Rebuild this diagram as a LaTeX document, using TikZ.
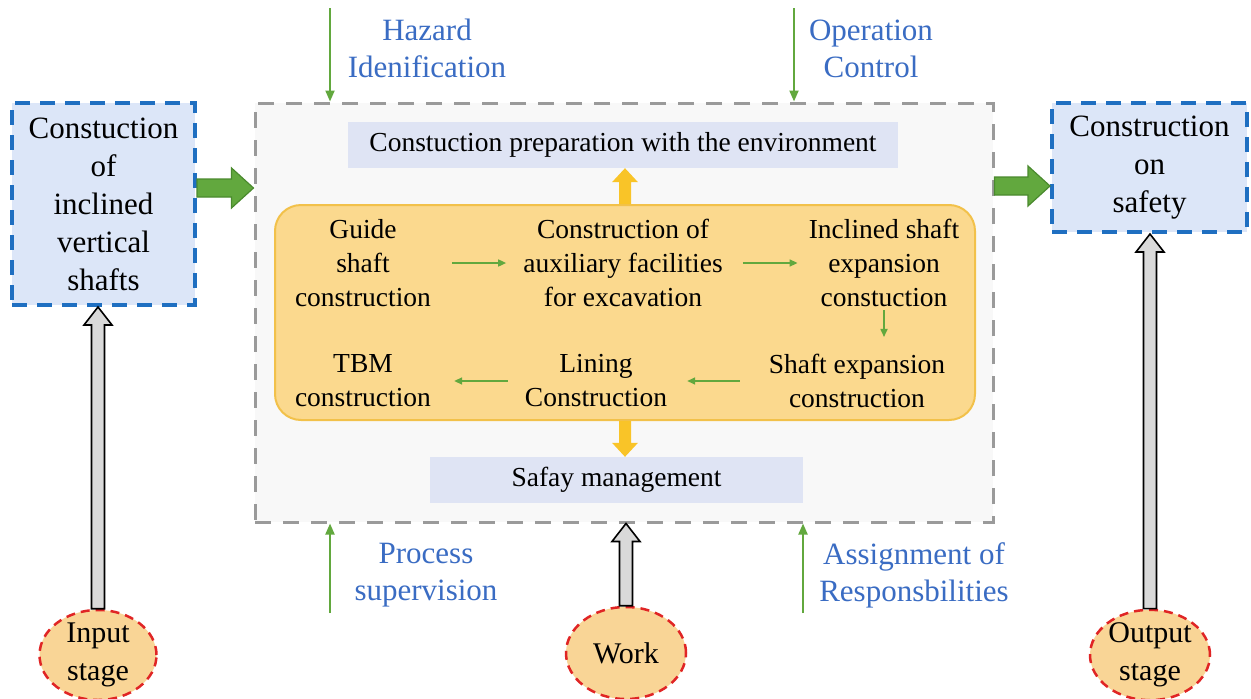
\documentclass[tikz,border=0pt]{standalone}
\usepackage{fontspec}
\setmainfont{Liberation Serif}
\usetikzlibrary{shapes.geometric,arrows.meta,calc}

\definecolor{boxblue}{HTML}{DCE6F8}
\definecolor{dashblue}{HTML}{1F6FC1}
\definecolor{paleblue}{HTML}{DFE4F4}
\definecolor{framegray}{HTML}{9A9A9A}
\definecolor{panelgray}{HTML}{F8F8F8}
\definecolor{gold}{HTML}{FBD98E}
\definecolor{goldedge}{HTML}{F2C14A}
\definecolor{yellowarrow}{HTML}{F9C428}
\definecolor{leaf}{HTML}{62A83E}
\definecolor{leafdark}{HTML}{4A8A2E}
\definecolor{labelblue}{HTML}{3A6CC3}
\definecolor{ovalfill}{HTML}{F9D596}
\definecolor{ovaledge}{HTML}{E02525}
\definecolor{shaftgray}{HTML}{D9D9D9}

% vertical block arrow: style, from, to, shaft half width, head half width, head length
\newcommand{\blockv}[6]{%
  \path[#1] let \p1=#2, \p2=#3, \n1={(\y2-\y1)/abs(\y2-\y1)} in
    (\x1-#4pt,\y1) -- (\x1-#4pt,\y2-\n1*#6pt) -- (\x1-#5pt,\y2-\n1*#6pt) -- (\x1,\y2)
    -- (\x1+#5pt,\y2-\n1*#6pt) -- (\x1+#4pt,\y2-\n1*#6pt) -- (\x1+#4pt,\y1) -- cycle;}
% horizontal block arrow, running at the height of its start point
\newcommand{\blockh}[6]{%
  \path[#1] let \p1=#2, \p2=#3, \n1={(\x2-\x1)/abs(\x2-\x1)} in
    (\x1,\y1-#4pt) -- (\x2-\n1*#6pt,\y1-#4pt) -- (\x2-\n1*#6pt,\y1-#5pt) -- (\x2,\y1)
    -- (\x2-\n1*#6pt,\y1+#5pt) -- (\x2-\n1*#6pt,\y1+#4pt) -- (\x1,\y1+#4pt) -- cycle;}

\tikzset{
  stagebox/.style={draw=dashblue, line width=4pt, dash pattern=on 15pt off 10pt,
    fill=boxblue, align=center, font=\fontsize{31}{38}\selectfont, inner sep=0pt},
  panel/.style={draw=framegray, line width=3pt, dash pattern=on 16pt off 12pt,
    fill=panelgray, inner sep=0pt},
  band/.style={fill=paleblue, inner sep=0pt, font=\fontsize{27.5}{32}\selectfont},
  flowbox/.style={draw=goldedge, line width=2pt, fill=gold, rounded corners=26pt, inner sep=0pt},
  steptext/.style={align=center, inner sep=0pt, font=\fontsize{27.5}{34}\selectfont},
  oval/.style={ellipse, draw=ovaledge, line width=2.5pt, dash pattern=on 9pt off 6pt,
    fill=ovalfill, inner sep=0pt, align=center, font=\fontsize{30}{38}\selectfont},
  cue/.style={text=labelblue, align=center, inner sep=0pt, font=\fontsize{31}{37}\selectfont},
  feed/.style={draw=leaf, line width=2pt, -{Triangle[length=11pt,width=9pt]}},
  flow/.style={draw=leaf, line width=1.6pt, -{Triangle[length=8pt,width=7pt]}},
  greenblock/.style={fill=leaf, draw=leafdark, line width=1.2pt},
  goldblock/.style={fill=yellowarrow},
  grayblock/.style={fill=shaftgray, draw=black, line width=1.6pt},
}

\begin{document}
\begin{tikzpicture}[x=1pt,y=-1pt]
\useasboundingbox[fill=white] (0,0) rectangle (1251,699);

% central process frame
\node[panel, minimum width=738pt, minimum height=419pt] (main) at (624,312.5) {};
\node[band, minimum width=550pt, minimum height=46pt] (prep) at (623,145)
  {Constuction preparation with the environment};
\node[band, minimum width=373pt, minimum height=46pt] (safe) at (616.5,480) {Safay management};
\node[flowbox, minimum width=700pt, minimum height=215pt] (flowarea) at (625,312.5) {};

% construction steps
\node[steptext] (g1) at (363,263) {Guide\\shaft\\construction};
\node[steptext] (g2) at (623,263) {Construction of\\auxiliary facilities\\for excavation};
\node[steptext] (g3) at (884,263) {Inclined shaft\\expansion\\constuction};
\node[steptext] (g4) at (857,381) {Shaft expansion\\construction};
\node[steptext] (g5) at (596,381) {Lining\\Construction};
\node[steptext] (g6) at (363,381) {TBM\\construction};

\draw[flow, shorten <=21pt, shorten >=17pt] (g1.east) -- (g1.east -| g2.west);
\draw[flow, shorten <=20pt, shorten >=11pt] (g2.east) -- (g2.east -| g3.west);
\draw[flow, shorten <=3pt, shorten >=17pt] (g3.south) -- (g3.south |- g4.north);
\draw[flow, shorten <=29pt, shorten >=20pt] (g4.west) -- (g4.west -| g5.east);
\draw[flow, shorten <=17pt, shorten >=23pt] (g5.west) -- (g5.west -| g6.east);

% yellow links to the two bands
\blockv{goldblock}{(flowarea.north)}{(prep.south)}{6}{13}{14}
\blockv{goldblock}{(flowarea.south)}{(safe.north)}{6}{13}{14}

% stage boxes
\node[stagebox, minimum width=183pt, minimum height=202pt] (left) at (103.5,204)
  {Constuction\\of\\inclined\\vertical\\shafts};
\node[stagebox, minimum width=195pt, minimum height=129pt, text depth=6pt] (right) at (1149.5,167.5)
  {Construction\\on\\safety};

\blockh{greenblock}{($(left.east)+(0,-16)$)}{(main.west)}{9}{20}{22}
\blockh{greenblock}{($(main.east |- right.west)+(0,18.5)$)}{(right.west)}{9}{20}{22}

% ovals
\node[oval, minimum width=117pt, minimum height=88pt, text depth=6pt] (inp) at (98,655) {Input\\stage};
\node[oval, minimum width=120pt, minimum height=92pt] (work) at (626,653) {Work};
\node[oval, minimum width=120pt, minimum height=88pt, text depth=6pt] (outp) at (1150,655) {Output\\stage};

\blockv{grayblock}{(inp.north)}{(left.south)}{6.5}{14}{18}
\blockv{grayblock}{(work.north)}{(main.south)}{6.5}{14}{18}
\blockv{grayblock}{(outp.north)}{(right.south)}{6.5}{14}{18}

% control inputs
\coordinate (hz) at (330,8);
\coordinate (oc) at (794,8);
\coordinate (ps) at (330,613);
\coordinate (ar) at (803,613);
\draw[feed] (hz) -- (hz |- main.north);
\draw[feed] (oc) -- (oc |- main.north);
\draw[feed] (ps) -- (ps |- main.south);
\draw[feed] (ar) -- (ar |- main.south);

\node[cue] (hazard) at (427,48.5) {Hazard\\Idenification};
\node[cue] (control) at (871,48.5) {Operation\\Control};
\node[cue] (superv) at (426,575.5) {Process\\supervision};
\node[cue] (assign) at (914,575.5) {Assignment of\\Responsbilities};
\end{tikzpicture}
\end{document}
